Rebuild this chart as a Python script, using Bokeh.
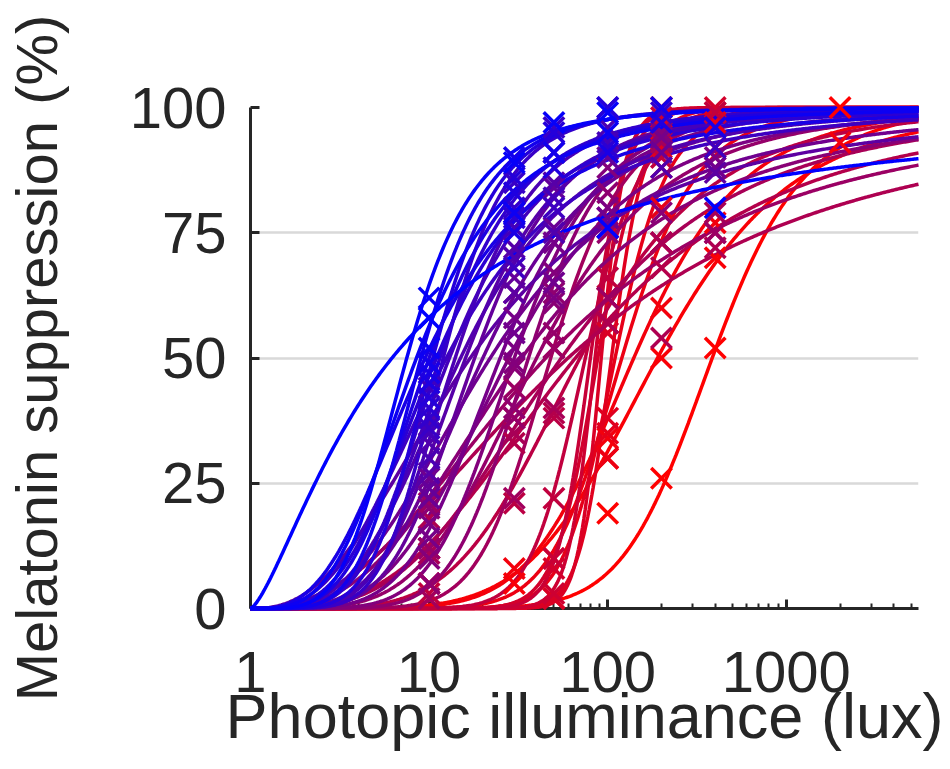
import numpy as np
from bokeh.plotting import figure
from bokeh.models import Range1d, FixedTicker, CustomJSTickFormatter, ColumnDataSource
from bokeh.embed import file_html
from bokeh.resources import INLINE

# ---- fitted dose-response parameters per participant (most -> least sensitive) ----
ed50 = [6.2, 7.5, 8.5, 9.0, 9.5, 10, 10.5, 11, 11.5, 12, 12.5, 13, 14, 15, 16, 17, 18, 20,
        22, 25, 28, 30, 33, 36, 40, 45, 48, 55, 60, 66, 70, 75, 80, 85, 88, 92, 105, 110,
        120, 140, 190, 385]
slope = [1.4, 4.5, 3.5, 5, 3, 4, 5.5, 3.5, 4.5, 6, 3, 4, 5, 3.5, 4.5, 2.5, 5, 4,
         3, 5, 4, 6, 3, 7, 4.5, 2.5, 8, 3.5, 2.3, 3.2, 5, 12, 20, 25, 16, 30, 22, 14,
         10, 7, 6, 10]

# ---- measured points: participant index, illuminance (lux), suppression (%) ----
obs_subject = [0, 0, 0,
               1, 1, 1, 1,
               2, 2, 2,
               3, 3, 3, 3,
               4, 4, 4, 4,
               5, 5, 5, 5,
               6, 6, 6, 6,
               7, 7, 7,
               8, 8, 8, 8,
               9, 9, 9, 9,
               10, 10, 10, 10,
               11, 11, 11, 11,
               12, 12, 12,
               13, 13, 13, 13,
               14, 14, 14, 14,
               15, 15, 15, 15,
               16, 16, 16, 16,
               17, 17, 17, 17,
               18, 18, 18, 18, 18,
               19, 19, 19, 19,
               20, 20, 20, 20, 20,
               21, 21, 21, 21, 21,
               22, 22, 22, 22,
               23, 23, 23, 23, 23,
               24, 24, 24, 24, 24,
               25, 25, 25, 25, 25,
               26, 26, 26, 26, 26,
               27, 27, 27, 27, 27, 27,
               28, 28, 28, 28, 28,
               29, 29, 29, 29, 29, 29,
               30, 30, 30, 30, 30,
               31, 31, 31, 31, 31,
               32, 32, 32,
               33, 33, 33, 33,
               34, 34, 34, 34, 34,
               35, 35, 35,
               36, 36, 36,
               37, 37, 37, 37,
               38, 38, 38, 38,
               39, 39, 39, 39, 39,
               40, 40, 40, 40,
               41, 41, 41, 41]
obs_lux = [10, 100, 400,
           10, 30, 50, 100,
           10, 30, 100,
           10, 30, 50, 200,
           10, 30, 100, 400,
           10, 30, 50, 200,
           10, 30, 50, 100,
           10, 30, 100,
           10, 30, 50, 200,
           10, 30, 50, 100,
           10, 30, 50, 400,
           10, 30, 50, 100,
           10, 30, 100,
           10, 30, 50, 200,
           10, 30, 50, 100,
           10, 30, 100, 400,
           10, 30, 50, 100,
           10, 30, 50, 200,
           10, 30, 50, 100, 400,
           10, 30, 50, 200,
           10, 30, 50, 100, 400,
           10, 30, 50, 100, 200,
           10, 30, 50, 200,
           10, 30, 50, 100, 200,
           10, 30, 50, 100, 400,
           10, 30, 50, 100, 400,
           10, 30, 50, 100, 200,
           10, 30, 50, 100, 200, 400,
           10, 30, 100, 200, 400,
           10, 30, 50, 100, 200, 400,
           10, 30, 50, 100, 200,
           10, 50, 100, 200, 400,
           50, 100, 200,
           10, 50, 100, 200,
           10, 50, 100, 200, 400,
           50, 100, 200,
           100, 200, 400,
           50, 100, 200, 400,
           50, 100, 200, 400,
           30, 100, 200, 400, 2000,
           30, 100, 200, 400,
           100, 200, 400, 2000]
obs_supp = [58, 76, 80,
            62, 89, 97, 99,
            52, 79, 95,
            49, 90, 91, 100,
            47, 75, 91, 96,
            45, 83, 88, 97,
            42, 86, 95, 100,
            40, 78, 92,
            38, 80, 91, 99,
            36, 85, 96, 100,
            44, 68, 80, 92,
            35, 76, 82, 93,
            30, 79, 96,
            33, 70, 75, 88,
            27, 72, 85, 92,
            35, 63, 76, 87,
            24, 66, 84, 90,
            22, 63, 76, 91,
            26, 55, 65, 78, 88,
            14, 58, 73, 94,
            17, 52, 62, 80, 90,
            10, 49, 67, 88, 95,
            20, 48, 61, 79,
            5, 40, 63, 83, 95,
            12, 38, 55, 75, 88,
            21, 44, 52, 62, 75,
            2, 22, 52, 78, 93,
            11, 35, 40, 62, 73, 79,
            18, 38, 57, 54, 72,
            12, 33, 39, 57, 68, 75,
            5, 21, 38, 62, 73,
            3, 22, 66, 90, 99,
            10, 76, 100,
            5, 3, 62, 98,
            12, 8, 57, 88, 100,
            2, 55, 100,
            38, 92, 99,
            2, 35, 80, 97,
            10, 30, 73, 92,
            8, 34, 60, 77, 93,
            5, 30, 50, 70,
            19, 26, 52, 100]

x_ticks = [1, 10, 100, 1000]
y_ticks = [0, 25, 50, 75, 100]

N = len(ed50)


def colour(i):
    t = i / (N - 1)
    return "#%02x00%02x" % (int(round(255 * t)), int(round(255 * (1 - t))))


cols = [colour(i) for i in range(N)]

X_MAX = 5500
Lgrid = np.linspace(0.0, np.log10(X_MAX), 500)
xs, ys, lc = [], [], []
for i in reversed(range(N)):
    c = np.log10(ed50[i])
    n = slope[i]
    yv = 100.0 * Lgrid ** n / (Lgrid ** n + c ** n)
    xs.append(list(10 ** Lgrid))
    ys.append(list(yv))
    lc.append(cols[i])

order = sorted(range(len(obs_subject)), key=lambda k: -obs_subject[k])
msrc = ColumnDataSource(dict(
    x=[obs_lux[k] for k in order],
    y=[obs_supp[k] for k in order],
    c=[cols[obs_subject[k]] for k in order],
))

TXT = "#262626"
FONT = "Liberation Sans"

p = figure(frame_width=668, frame_height=501, x_axis_type="log",
           x_range=Range1d(1, X_MAX), y_range=Range1d(0, 100),
           output_backend="svg", toolbar_location=None,
           min_border_left=248, min_border_right=32,
           min_border_top=107, min_border_bottom=120)
p.outline_line_color = None
p.background_fill_color = "white"
p.border_fill_color = "white"

p.xgrid.visible = False
p.ygrid.ticker = FixedTicker(ticks=[25, 50, 75, 100])
p.ygrid.grid_line_color = "#d9d9d9"
p.ygrid.grid_line_width = 2.5

r1 = p.multi_line(xs=xs, ys=ys, line_color=lc, line_width=3.5)
r2 = p.scatter(x="x", y="y", source=msrc, marker="x", size=29,
               line_color="c", line_width=3.5)
r1.level = "annotation"
r2.level = "annotation"

minor = [v * m for v in (1, 10, 100, 1000) for m in range(2, 10) if v * m <= X_MAX]
xa = p.xaxis[0]
xa.ticker = FixedTicker(ticks=x_ticks, minor_ticks=minor)
xa.formatter = CustomJSTickFormatter(code="return tick.toString()")
xa.axis_label = "Photopic illuminance (lux)"

ya = p.yaxis[0]
ya.ticker = FixedTicker(ticks=y_ticks)
ya.axis_label = "Melatonin suppression (%)"

for ax in (xa, ya):
    ax.axis_line_color = TXT
    ax.axis_line_width = 3
    ax.major_tick_line_color = TXT
    ax.major_tick_line_width = 3
    ax.minor_tick_line_color = TXT
    ax.minor_tick_line_width = 2
    ax.major_tick_out = 0
    ax.major_tick_in = 9
    ax.minor_tick_out = 0
    ax.minor_tick_in = 5
    ax.major_label_text_font = FONT
    ax.major_label_text_font_size = "58px"
    ax.major_label_text_color = TXT
    ax.axis_label_text_font = FONT
    ax.axis_label_text_color = TXT
    ax.axis_label_text_font_style = "normal"

xa.axis_label_text_font_size = "63px"
ya.axis_label_text_font_size = "58px"
ya.minor_tick_in = 0
xa.major_label_standoff = 43
xa.axis_label_standoff = -14
ya.major_label_standoff = 24
ya.axis_label_standoff = 58

open("out.html", "w").write(file_html(p, INLINE))
